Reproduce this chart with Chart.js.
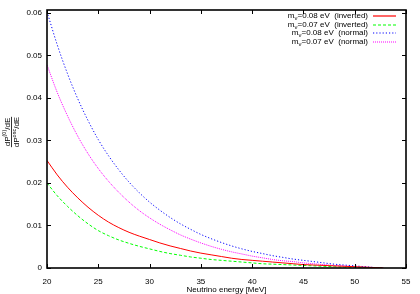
<!DOCTYPE html>
<html><head><meta charset="utf-8">
<script src="https://cdn.jsdelivr.net/npm/chart.js@4/dist/chart.umd.min.js"></script>
<style>html,body{margin:0;padding:0;background:#fff}#wrap{width:420px;height:294px}</style>
</head><body><div id="wrap"><canvas id="c" width="420" height="294"></canvas></div>
<script>
const energies = [20,21,22,23,24,25,26,27,28,29,30,31,32,33,34,35,36,37,38,39,40,41,42,43,44,45,46,47,48,49,50,51,52,52.8];
const inv008 = [0.0253,0.0219,0.0190,0.0165,0.0143,0.0124,0.0108,0.0095,0.0084,0.0075,0.0067,0.0059,0.0052,0.0046,0.0040,0.0035,0.0031,0.0027,0.0023,0.0020,0.0018,0.0016,0.0014,0.0012,0.0010,0.0008,0.0007,0.0006,0.0005,0.0004,0.0003,0.0002,0.0001,0];
const inv007 = [0.0200,0.0170,0.0145,0.0123,0.0104,0.0088,0.0076,0.0066,0.0058,0.0051,0.0045,0.0039,0.0034,0.0030,0.0026,0.0023,0.0020,0.0018,0.0016,0.0014,0.0012,0.0010,0.0009,0.0008,0.0007,0.0006,0.0005,0.0004,0.0003,0.0002,0.0002,0.0001,0.00005,0];
const norm008 = [0.0603,0.0525,0.0457,0.0398,0.0347,0.0302,0.0264,0.0231,0.0202,0.0177,0.0155,0.0136,0.0119,0.0104,0.0091,0.0079,0.0069,0.0060,0.0052,0.0045,0.0039,0.0034,0.0029,0.0025,0.0021,0.0018,0.0015,0.0012,0.0009,0.0007,0.0005,0.0003,0.0001,0];
const norm007 = [0.0478,0.0413,0.0358,0.0310,0.0269,0.0234,0.0204,0.0178,0.0155,0.0135,0.0118,0.0103,0.0090,0.0078,0.0068,0.0059,0.0051,0.0044,0.0038,0.0033,0.0028,0.0024,0.0020,0.0017,0.0015,0.0012,0.0010,0.0008,0.0006,0.0005,0.0003,0.0002,0.0001,0];
const xTicks = [20,25,30,35,40,45,50,55];
const yTicks = [0,0.01,0.02,0.03,0.04,0.05,0.06];
const masses = ['0.08','0.07','0.08','0.07'];
const hier = ['inverted','inverted','normal','normal'];
const colors = ['#ff0000','#00ff00','#0000ff','#ff00ff'];
const dashes = [[],[3,2],[1.2,2],[1,1]];
const seriesList = [inv008, inv007, norm008, norm007];

const FONT = '"Liberation Sans", Arial, sans-serif';

const datasets = seriesList.map((s,i)=>({
  label: 'm_nu=' + masses[i] + ' eV (' + hier[i] + ')',
  data: energies.map((e,j)=>({x:e,y:s[j]})),
  borderColor: colors[i], borderWidth: 1, borderDash: dashes[i],
  pointRadius: 0, showLine: true, fill: false,
  cubicInterpolationMode: 'monotone'
}));

const framePlugin = {
  id: 'frame',
  afterDatasetsDraw(chart) {
    const ctx = chart.ctx, a = chart.chartArea;
    const xs = chart.scales.x, ys = chart.scales.y;
    ctx.save();
    ctx.strokeStyle = '#000'; ctx.lineWidth = 1;
    ctx.beginPath();
    xTicks.forEach(v=>{
      const px = Math.round(xs.getPixelForValue(v))+0.5;
      ctx.moveTo(px,a.bottom); ctx.lineTo(px,a.bottom-4);
      ctx.moveTo(px,a.top); ctx.lineTo(px,a.top+4);
    });
    yTicks.forEach(v=>{
      const py = Math.round(ys.getPixelForValue(v))+0.5;
      ctx.moveTo(a.left,py); ctx.lineTo(a.left+4,py);
      ctx.moveTo(a.right,py); ctx.lineTo(a.right-4,py);
    });
    ctx.stroke();
    ctx.lineWidth = 1.6;
    ctx.strokeRect(a.left, a.top, a.right-a.left, a.bottom-a.top);
    // legend
    const base = '8px ' + FONT, sub = '6px ' + FONT;
    const rowY = [16, 24.5, 33, 41.5];
    const textRight = 368, lx1 = 373, lx2 = 396;
    ctx.fillStyle = '#000'; ctx.textBaseline = 'middle'; ctx.textAlign = 'left';
    for (let i=0;i<4;i++){
      const rest = '=' + masses[i] + ' eV  (' + hier[i] + ')';
      ctx.font = base; const wm = ctx.measureText('m').width; const wr = ctx.measureText(rest).width;
      ctx.font = sub; const wn = ctx.measureText('\u03bd').width;
      let x = textRight - (wm+wn+wr);
      ctx.fillStyle = '#000';
      ctx.font = base; ctx.fillText('m', x, rowY[i]); x += wm;
      ctx.font = sub; ctx.fillText('\u03bd', x, rowY[i]+2.5); x += wn;
      ctx.font = base; ctx.fillText(rest, x, rowY[i]);
      ctx.beginPath(); ctx.strokeStyle = colors[i]; ctx.lineWidth = 1.2; ctx.setLineDash(dashes[i]);
      ctx.moveTo(lx1, Math.round(rowY[i])); ctx.lineTo(lx2, Math.round(rowY[i])); ctx.stroke();
      ctx.setLineDash([]);
    }
    // y axis label fraction
    ctx.save();
    ctx.translate(11, 132); ctx.rotate(-Math.PI/2);
    ctx.fillStyle = '#000'; ctx.textBaseline = 'alphabetic';
    const drawFrac = (supTxt, yBase) => {
      ctx.font = '8px ' + FONT; const w1 = ctx.measureText('dP').width; const w3 = ctx.measureText('/dE').width;
      ctx.font = '5.5px ' + FONT; const w2 = ctx.measureText(supTxt).width;
      let x = -(w1+w2+w3)/2;
      ctx.font = '8px ' + FONT; ctx.fillText('dP', x, yBase); x += w1;
      ctx.font = '5.5px ' + FONT; ctx.fillText(supTxt, x, yBase-3.5); x += w2;
      ctx.font = '8px ' + FONT; ctx.fillText('/dE', x, yBase);
      return w1+w2+w3;
    };
    const wa = drawFrac('(0)', -1.5);
    const wb = drawFrac('osc', 8);
    const w = Math.max(wa, wb);
    ctx.beginPath(); ctx.strokeStyle = '#000'; ctx.lineWidth = 0.8;
    ctx.moveTo(-w/2, 0.5); ctx.lineTo(w/2, 0.5); ctx.stroke();
    ctx.restore();
    // x title
    ctx.font = '8px ' + FONT; ctx.textAlign = 'center'; ctx.textBaseline = 'middle'; ctx.fillStyle = '#000';
    ctx.fillText('Neutrino energy [MeV]', (a.left+a.right)/2, 289.5);
    ctx.restore();
  }
};

new Chart(document.getElementById('c'), {
  type: 'scatter',
  data: { datasets },
  options: {
    responsive: false, animation: false, devicePixelRatio: 1,
    layout: { padding: { left: 0, right: 14, top: 10, bottom: 0 } },
    plugins: { legend: { display: false }, tooltip: { enabled: false } },
    scales: {
      x: {
        type: 'linear', min: 20, max: 55,
        afterBuildTicks: s => { s.ticks = xTicks.map(v=>({value:v})); },
        afterFit: s => { s.height = 294 - 268; },
        grid: { display: false, drawTicks: false }, border: { display: false },
        ticks: { font: { size: 8, family: FONT }, color: '#000', padding: 9, maxRotation: 0, callback: v => String(v) }
      },
      y: {
        type: 'linear', min: 0, max: 0.0607,
        afterBuildTicks: s => { s.ticks = yTicks.map(v=>({value:v})); },
        afterFit: s => { s.width = 47; },
        grid: { display: false, drawTicks: false }, border: { display: false },
        ticks: { font: { size: 8, family: FONT }, color: '#000', padding: 5, callback: v => v === 0 ? '0' : v.toFixed(2) }
      }
    }
  },
  plugins: [framePlugin]
});
</script></body></html>
